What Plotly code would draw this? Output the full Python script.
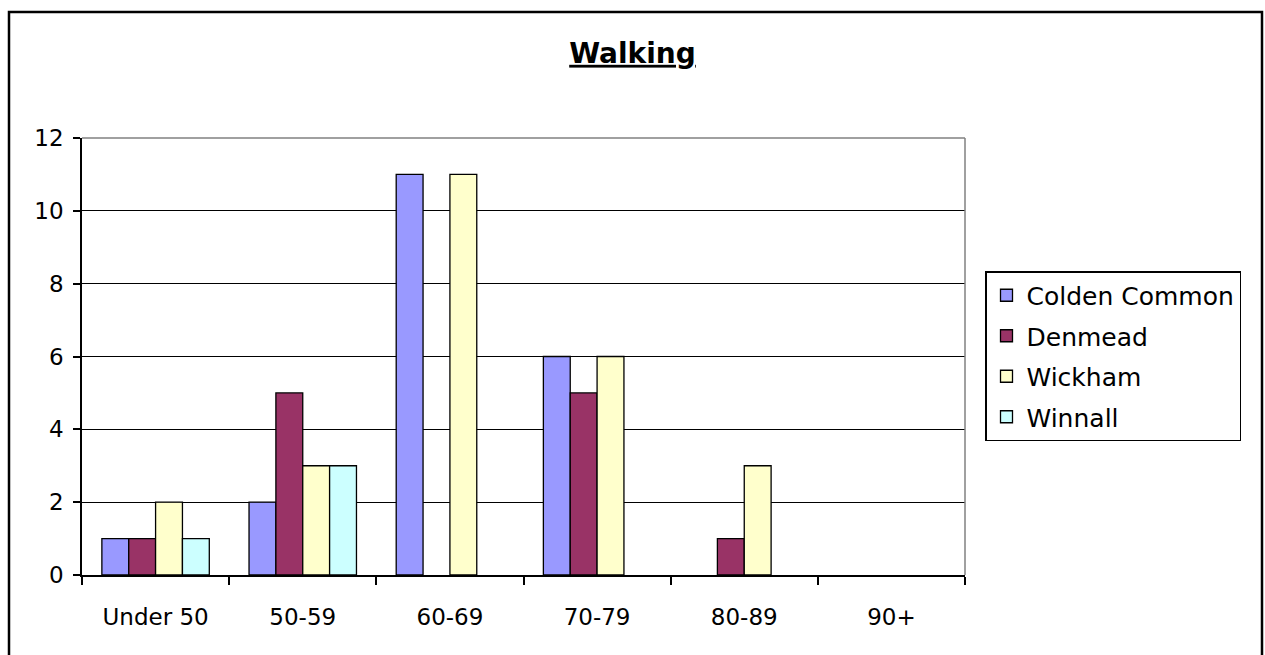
import plotly.graph_objects as go

categories = ["Under 50", "50-59", "60-69", "70-79", "80-89", "90+"]
colden_common = [1, 2, 11, 6, 0, 0]
denmead = [1, 5, 0, 5, 1, 0]
wickham = [2, 3, 11, 6, 3, 0]
winnall = [1, 3, 0, 0, 0, 0]

series = [
    ("Colden Common", colden_common, "#9999FF"),
    ("Denmead", denmead, "#993366"),
    ("Wickham", wickham, "#FFFFCC"),
    ("Winnall", winnall, "#CCFFFF"),
]

FONT = "DejaVu Sans"

fig = go.Figure()
for i, (name, vals, col) in enumerate(series):
    fig.add_trace(go.Bar(
        x=categories, y=[v if v else None for v in vals], name=name,
        legendgroup=f"g{i}",
        marker=dict(color=col, line=dict(color="black", width=1.3)),
    ))

W, H = 1265, 655
L, R, T, B = 82, 300, 138, 80
pw, ph = W - L - R, H - T - B

def px(x):
    return (x - L) / pw

def py(y):
    return (H - B - y) / ph

fig.update_layout(
    width=W, height=H,
    margin=dict(l=L, r=R, t=T, b=B),
    paper_bgcolor="white", plot_bgcolor="white",
    barmode="group", bargap=0.27, bargroupgap=0,
    font=dict(family=FONT, color="black", size=23),
    title=dict(text="<b><u>Walking</u></b>", x=0.5, xanchor="center",
               y=1 - 53 / H, yanchor="middle", font=dict(size=28, family=FONT)),
    showlegend=True,
    legend=dict(x=px(985), y=py(271), xanchor="left", yanchor="top",
                bordercolor="black", borderwidth=1.5, bgcolor="white",
                font=dict(size=25, family=FONT), tracegroupgap=5,
                itemwidth=30),
    xaxis=dict(showline=True, linecolor="black", linewidth=2,
               ticks="outside", tickson="boundaries", ticklen=8,
               tickcolor="black", tickwidth=1.5, ticklabelstandoff=20,
               tickfont=dict(size=23), showgrid=False),
    yaxis=dict(range=[0, 12], dtick=2, showline=True, linecolor="black",
               linewidth=1.5, ticks="outside", ticklen=7, tickcolor="black",
               tickwidth=1.5, showgrid=True, gridcolor="black", gridwidth=1,
               zeroline=False, tickfont=dict(size=23), ticklabelstandoff=5),
)

# plot-area top and right borders (grey)
fig.add_shape(type="line", xref="paper", yref="paper", x0=0, x1=1, y0=1, y1=1,
              line=dict(color="#808080", width=1.5), layer="above")
fig.add_shape(type="line", xref="paper", yref="paper", x0=1, x1=1, y0=0, y1=1,
              line=dict(color="#808080", width=1.5), layer="above")
# outer chart border
fig.add_shape(type="rect", xref="paper", yref="paper",
              x0=px(9), x1=px(1262), y0=py(12), y1=py(665),
              line=dict(color="black", width=2.5), layer="below")

fig.write_html("out.html", config={"displayModeBar": False},
               post_script="document.body.style.margin='0';document.body.style.overflow='hidden';")
